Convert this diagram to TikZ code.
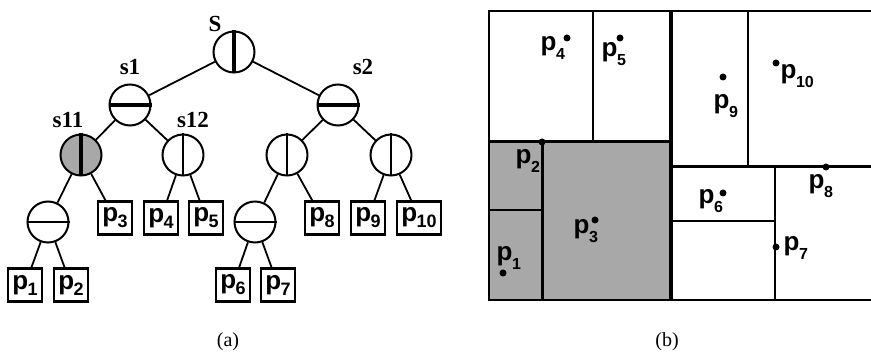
\documentclass[tikz,border=0pt]{standalone}
\usepackage{fontspec}
\setmainfont{Liberation Serif}
\newfontfamily\lsans{Liberation Sans}
\newcommand{\tp}[1]{{\lsans\bfseries\fontsize{26}{26}\selectfont p\kern-0.5pt\raisebox{-6pt}{\fontsize{18}{18}\selectfont #1}}}
\newcommand{\bp}[1]{{\lsans\bfseries\fontsize{26}{26}\selectfont p\kern-0.5pt\raisebox{-9pt}{\fontsize{16}{16}\selectfont #1}}}
\definecolor{shadegray}{gray}{0.66}
\begin{document}
\begin{tikzpicture}[x=1pt,y=-1pt,
  split/.style={circle,draw,line width=2pt,minimum size=41pt,inner sep=0pt},
  leaf/.style={draw,line width=2.2pt,minimum width=33pt,minimum height=33pt,inner xsep=4pt,inner ysep=3pt},
  edge/.style={line width=1.8pt},
  lab/.style={font=\fontsize{23}{23}\selectfont\bfseries,anchor=base,inner sep=0pt},
  captionlab/.style={font=\fontsize{20}{20}\selectfont,anchor=base,inner sep=0pt},
  plab/.style={anchor=base west,inner sep=0pt},
  thinl/.style={line width=2pt},
  thickl/.style={line width=3pt},
  ptdot/.style={circle,fill=black,inner sep=0pt,minimum size=7pt}]
\useasboundingbox (0,0) rectangle (871,352);

% ---------- (a) tree ----------
\node[split] (S) at (234,52) {};
\node[split] (s1) at (130,105) {};
\node[split] (s2) at (338,105) {};
\node[split,fill=shadegray] (s11) at (81,155) {};
\node[split] (s12) at (183,155) {};
\node[split] (s21) at (287,155) {};
\node[split] (s22) at (391,155) {};
\node[split] (s111) at (48,222) {};
\node[split] (s211) at (255,222) {};

\draw[line width=4.5pt] (S.north) -- (S.south);
\draw[line width=4pt] (s1.west) -- (s1.east);
\draw[line width=4pt] (s2.west) -- (s2.east);
\draw[line width=3.5pt] (s11.north) -- (s11.south);
\draw[line width=2.2pt] (s12.north) -- (s12.south);
\draw[line width=2.2pt] (s21.north) -- (s21.south);
\draw[line width=2.2pt] (s22.north) -- (s22.south);
\draw[line width=1.8pt] (s111.west) -- (s111.east);
\draw[line width=1.8pt] (s211.west) -- (s211.east);

\node[leaf] (p1) at (25,285) {\tp{1}};
\node[leaf] (p2) at (71,285) {\tp{2}};
\node[leaf] (p3) at (115,218) {\tp{3}};
\node[leaf] (p4) at (161,218) {\tp{4}};
\node[leaf] (p5) at (206,218) {\tp{5}};
\node[leaf] (p6) at (233,285) {\tp{6}};
\node[leaf] (p7) at (278,285) {\tp{7}};
\node[leaf] (p8) at (322,218) {\tp{8}};
\node[leaf] (p9) at (368,218) {\tp{9}};
\node[leaf] (p10) at (419,218) {\tp{10}};

\draw[edge] (S) -- (s1);
\draw[edge] (S) -- (s2);
\draw[edge] (s1) -- (s11);
\draw[edge] (s1) -- (s12);
\draw[edge] (s2) -- (s21);
\draw[edge] (s2) -- (s22);
\draw[edge] (s11) -- (s111);
\draw[edge] (s11) -- (p3);
\draw[edge] (s12) -- (p4);
\draw[edge] (s12) -- (p5);
\draw[edge] (s21) -- (s211);
\draw[edge] (s21) -- (p8);
\draw[edge] (s22) -- (p9);
\draw[edge] (s22) -- (p10);
\draw[edge] (s111) -- (p1);
\draw[edge] (s111) -- (p2);
\draw[edge] (s211) -- (p6);
\draw[edge] (s211) -- (p7);

\node[lab] (lS) at (215,32) {S};
\node[lab] (ls1) at (130,75) {s1};
\node[lab] (ls2) at (363,75) {s2};
\node[lab] (ls11) at (68,128) {s11};
\node[lab] (ls12) at (193,128) {s12};

\node[captionlab] (capa) at (228,347) {(a)};

% ---------- (b) partition ----------
\fill[shadegray] (489,142) rectangle (671,300);
\draw[thinl] (593,11) -- (593,142);
\draw[thinl] (489,210) -- (542,210);
\draw[thinl] (748,11) -- (748,167);
\draw[thinl] (775,167) -- (775,300);
\draw[thinl] (671,221) -- (775,221);
\draw[thickl] (542,142) -- (542,300);
\draw[thickl] (489,142) -- (671,142);
\draw[thickl] (671,167) -- (871,167);
\draw[line width=4pt] (671,11) -- (671,300);
\draw[line width=2.8pt] (871,11) -- (489,11) -- (489,300) -- (871,300);

\node[ptdot] (q1) at (503,273) {};
\node[ptdot] (q2) at (542,142) {};
\node[ptdot] (q3) at (595,220) {};
\node[ptdot] (q4) at (567,38) {};
\node[ptdot] (q5) at (620,38) {};
\node[ptdot] (q6) at (723,193) {};
\node[ptdot] (q7) at (776,247) {};
\node[ptdot] (q8) at (826,167) {};
\node[ptdot] (q9) at (723,77) {};
\node[ptdot] (q10) at (776,63) {};

\node[plab] (l1) at (496.5,261) {\bp{1}};
\node[plab] (l2) at (515.5,164) {\bp{2}};
\node[plab] (l3) at (573.5,234) {\bp{3}};
\node[plab] (l4) at (540.5,51) {\bp{4}};
\node[plab] (l5) at (601.5,57) {\bp{5}};
\node[plab] (l6) at (698.5,204) {\bp{6}};
\node[plab] (l7) at (783.5,251) {\bp{7}};
\node[plab] (l8) at (808.5,189) {\bp{8}};
\node[plab] (l9) at (713.5,109) {\bp{9}};
\node[plab] (l10) at (780.5,79) {\bp{10}};

\node[captionlab] (capb) at (667,347) {(b)};
\end{tikzpicture}
\end{document}
